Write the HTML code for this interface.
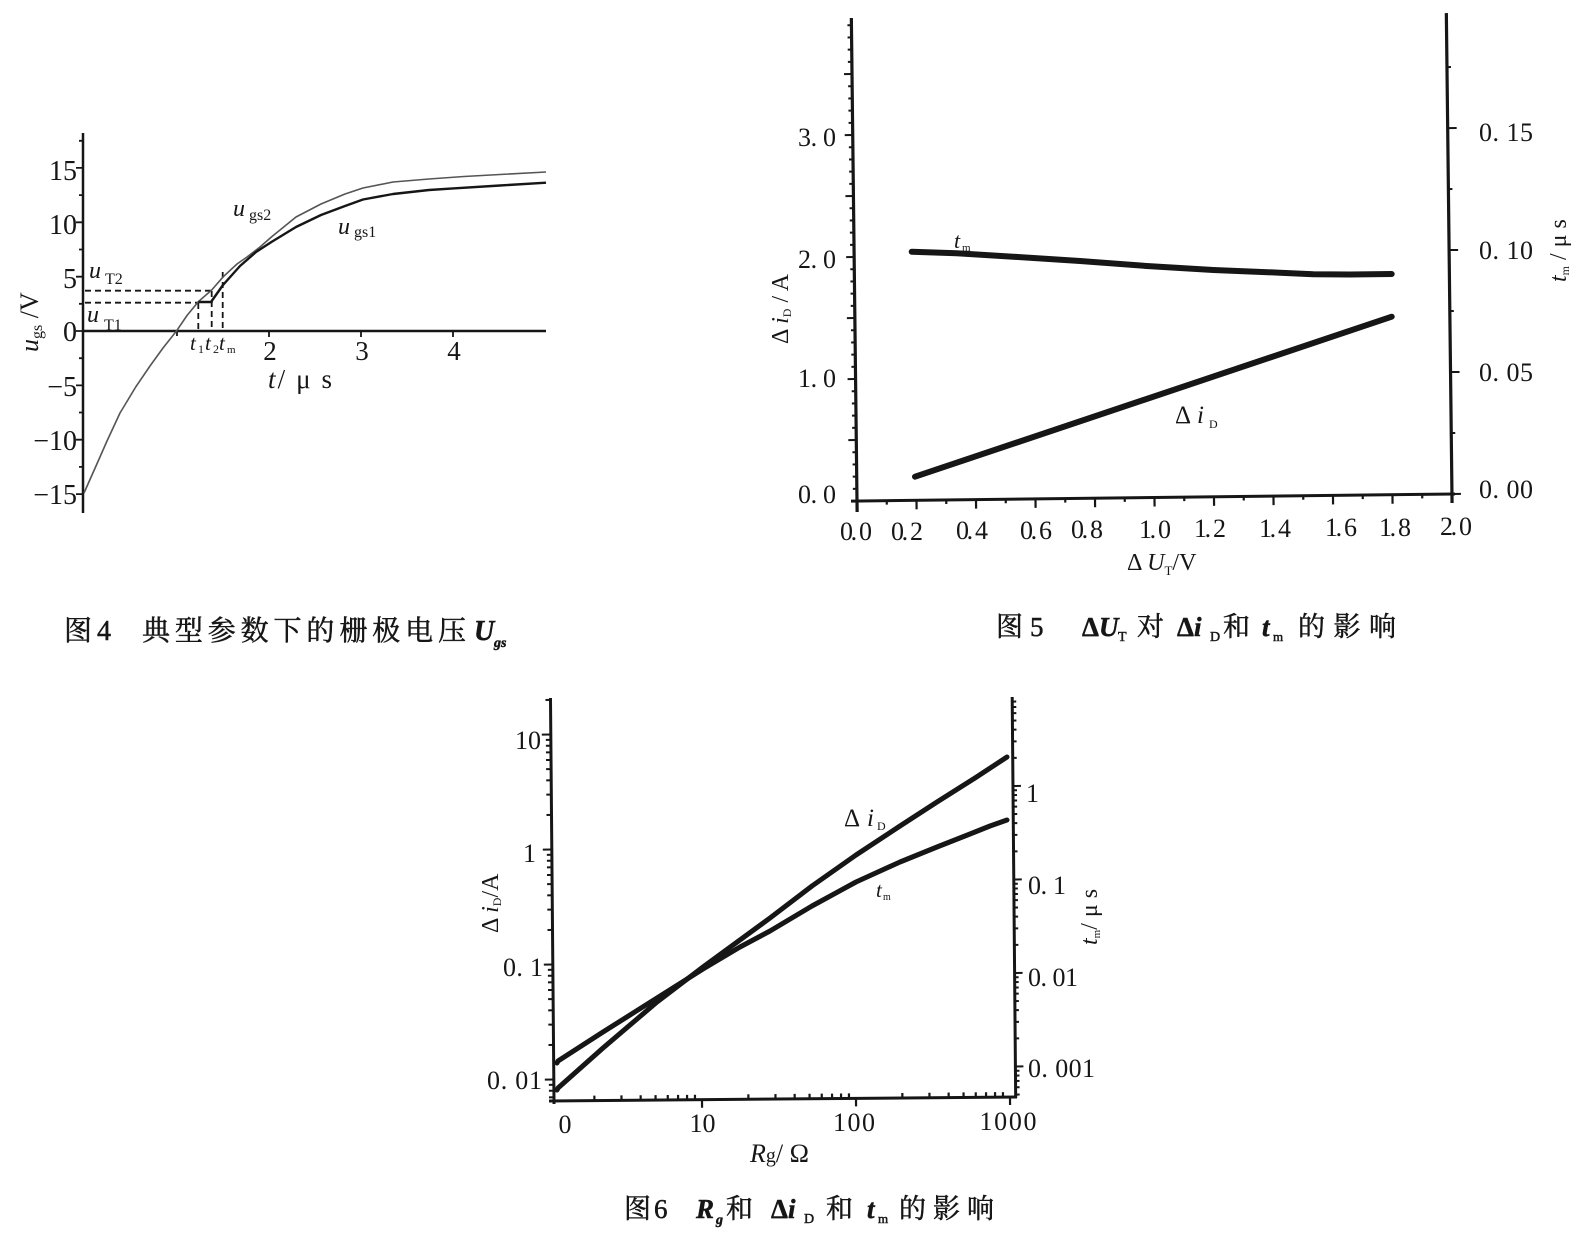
<!DOCTYPE html>
<html><head><meta charset="utf-8"><style>
html,body{margin:0;padding:0;background:#fff;}
svg{display:block;}
text{font-family:"Liberation Serif","Noto Serif CJK SC",serif;fill:#161616;}
.cj{font-family:"Liberation Serif","Noto Sans CJK SC",sans-serif;}
.it{font-style:italic;}
</style></head><body>
<svg width="1586" height="1239" viewBox="0 0 1586 1239" xmlns="http://www.w3.org/2000/svg">
<rect width="1586" height="1239" fill="#fff"/>

<!-- ================= FIG 4 ================= -->
<g stroke="#161616" fill="none">
  <line x1="83" y1="133" x2="83" y2="513" stroke-width="2.5"/>
  <line x1="83" y1="331" x2="546" y2="331" stroke-width="2.6"/>
  <path stroke-width="1.8" d="M76,167.9h7M76,222.3h7M76,276.7h7M76,331h7M76,385.4h7M76,439.7h7M76,494.1h7M79,140.8h4M79,195.1h4M79,249.5h4M79,303.8h4M79,358.2h4M79,412.5h4M79,466.9h4"/>
  <path stroke-width="1.8" d="M177,331v5M269,331v6M361,331v6M453,331v6"/>
  <g stroke-width="1.8" stroke-dasharray="6,4">
    <line x1="85" y1="302.7" x2="198" y2="302.7"/>
    <line x1="85" y1="290.7" x2="212" y2="290.7"/>
    <line x1="198.3" y1="303" x2="198.3" y2="331"/>
    <line x1="211.7" y1="291" x2="211.7" y2="331"/>
    <line x1="222.7" y1="272" x2="222.7" y2="331"/>
  </g>
  <polyline stroke="#555" stroke-width="1.6" stroke-linejoin="round" points="84,493 96,466 107,441 120,413 135.7,387 150,366 163,348 176.7,330.7 187,315.5 198.3,301.7 211.7,290 223.3,276.7 237,264 247,257 260,247 271.4,237 296,217 321,204 345,194 363,188 393,182 429,179 464,176.5 500,174.5 546,172"/>
  <polyline stroke-width="2.4" stroke-linejoin="round" points="198.3,302 211.7,302 211.7,301 223,285 240,266 256,252 271.4,242 296,227 321,215 345,206 363,199.5 393,194 429,190 455,188.3 500,185.5 546,182.7"/>
</g>
<g font-size="28" text-anchor="end">
  <text x="77" y="180">15</text>
  <text x="77" y="234">10</text>
  <text x="77" y="288">5</text>
  <text x="77" y="341">0</text>
  <text x="77" y="396">−5</text>
  <text x="77" y="450">−10</text>
  <text x="77" y="504">−15</text>
</g>
<g font-size="27" text-anchor="middle">
  <text x="270" y="360">2</text>
  <text x="362" y="360">3</text>
  <text x="454" y="360">4</text>
</g>
<text x="190" y="350" font-size="21" class="it">t</text><text x="198" y="353" font-size="12">1</text>
<text x="205" y="350" font-size="21" class="it">t</text><text x="213" y="353" font-size="12">2</text>
<text x="219" y="350" font-size="21" class="it">t</text><text x="227" y="353" font-size="11">m</text>
<text x="268" y="388" font-size="27" textLength="64"><tspan class="it">t</tspan>/ μ s</text>
<text x="89" y="278" font-size="24" class="it">u</text><text x="105" y="284" font-size="16">T2</text>
<text x="87" y="322" font-size="24" class="it">u</text><text x="104" y="330" font-size="16">T1</text>
<text x="233" y="216" font-size="24" class="it">u</text><text x="249" y="220" font-size="16">gs2</text>
<text x="338" y="234" font-size="24" class="it">u</text><text x="354" y="237" font-size="16">gs1</text>
<text transform="translate(38,352) rotate(-90)" font-size="26"><tspan class="it">u</tspan><tspan font-size="16" dy="4">gs</tspan><tspan dy="-4"> /V</tspan></text>

<!-- caption 4 -->
<g class="cj" font-size="28" stroke="#161616" stroke-width="0.5">
  <text x="64" y="640">图</text>
  <text x="97" y="640" font-family="Liberation Sans">4</text>
  <text x="142" y="640" textLength="324" lengthAdjust="spacing">典型参数下的栅极电压</text>
  <text x="474" y="640" class="it" font-family="Liberation Serif" font-weight="bold">U</text>
  <text x="494" y="647" class="it" font-size="14" font-family="Liberation Serif" font-weight="bold">gs</text>
</g>

<!-- ================= FIG 5 ================= -->
<g transform="rotate(-0.67 857 501)" stroke="#161616" fill="none">
  <line x1="857" y1="18" x2="857" y2="512" stroke-width="3.2"/>
  <line x1="851" y1="501" x2="1455" y2="501" stroke-width="3"/>
  <line x1="1452" y1="20" x2="1452" y2="510" stroke-width="3.2"/>
  <path stroke-width="2" d="M849,440h8M849,379h8M849,318h8M849,257h8M849,196h8M849,135h8M849,74h8
  M853,488.8h4M853,476.6h4M853,464.4h4M853,452.2h4M853,427.8h4M853,415.6h4M853,403.4h4M853,391.2h4
  M853,366.8h4M853,354.6h4M853,342.4h4M853,330.2h4M853,305.8h4M853,293.6h4M853,281.4h4M853,269.2h4
  M853,244.8h4M853,232.6h4M853,220.4h4M853,208.2h4M853,183.8h4M853,171.6h4M853,159.4h4M853,147.2h4
  M853,122.8h4M853,110.6h4M853,98.4h4M853,86.2h4M853,61.8h4M853,49.6h4M853,37.4h4M853,25.2h4"/>
  <path stroke-width="2" d="M1452,501h9M1452,379h9M1452,257h9M1452,135h9M1452,440h4M1452,318h4M1452,196h4M1452,74h4"/>
  <path stroke-width="2.2" d="M916.5,501v9M976,501v9M1035.5,501v9M1095,501v9M1154.5,501v9M1214,501v9M1273.5,501v9M1333,501v9M1392.5,501v9
  M886.75,501v4M946.25,501v4M1005.75,501v4M1065.25,501v4M1124.75,501v4M1184.25,501v4M1243.75,501v4M1303.25,501v4M1362.75,501v4M1422.25,501v4"/>
</g>
<g stroke="#161616" fill="none" stroke-linecap="round" stroke-linejoin="round">
  <polyline stroke-width="6" points="911.7,251.7 956.7,253.3 1013.3,256.7 1080,261 1146.7,266 1213.3,270 1280,272.7 1313.3,274.3 1350,274.5 1391.7,274"/>
  <line x1="915" y1="476.7" x2="1391.7" y2="316.7" stroke-width="6"/>
</g>
<g font-size="26" text-anchor="end">
  <text x="836" y="146" textLength="38">3. 0</text>
  <text x="836" y="268" textLength="38">2. 0</text>
  <text x="836" y="387" textLength="38">1. 0</text>
  <text x="836" y="503" textLength="38">0. 0</text>
</g>
<g font-size="26">
  <text x="1479" y="141" textLength="54">0. 15</text>
  <text x="1479" y="259" textLength="54">0. 10</text>
  <text x="1479" y="381" textLength="54">0. 05</text>
  <text x="1479" y="498" textLength="54">0. 00</text>
</g>
<g font-size="26" text-anchor="middle">
  <text x="856" y="540" textLength="32">0. 0</text>
  <text x="907" y="540" textLength="32">0. 2</text>
  <text x="972" y="539" textLength="32">0. 4</text>
  <text x="1036" y="539" textLength="32">0. 6</text>
  <text x="1087" y="538" textLength="32">0. 8</text>
  <text x="1155" y="538" textLength="32">1. 0</text>
  <text x="1210" y="537" textLength="32">1. 2</text>
  <text x="1275" y="537" textLength="32">1. 4</text>
  <text x="1341" y="536" textLength="32">1. 6</text>
  <text x="1395" y="536" textLength="32">1. 8</text>
  <text x="1456" y="535" textLength="32">2. 0</text>
</g>
<text x="1127" y="570" font-size="24">Δ <tspan class="it">U</tspan><tspan font-size="13" dy="5">T</tspan><tspan dy="-5">/V</tspan></text>
<text transform="translate(788,344) rotate(-90)" font-size="24">Δ <tspan class="it">i</tspan><tspan font-size="12" dy="3">D</tspan><tspan dy="-3"> / A</tspan></text>
<text transform="translate(1566,282) rotate(-90)" font-size="24"><tspan class="it">t</tspan><tspan font-size="12" dy="3">m</tspan><tspan dy="-3"> / μ s</tspan></text>
<text x="954" y="248" font-size="22" class="it">t</text><text x="962" y="251" font-size="11">m</text>
<text x="1175" y="423" font-size="25">Δ</text><text x="1197" y="423" font-size="25" class="it">i</text><text x="1209" y="428" font-size="12">D</text>

<!-- caption 5 -->
<g class="cj" font-size="27" stroke="#161616" stroke-width="0.5">
  <text x="996" y="636">图</text>
  <text x="1030" y="636" font-family="Liberation Sans">5</text>
  <text x="1082" y="636" font-family="Liberation Serif" font-weight="bold">Δ<tspan class="it">U</tspan></text>
  <text x="1118" y="641" font-size="14" font-family="Liberation Serif">T</text>
  <text x="1137" y="636">对</text>
  <text x="1177" y="636" font-family="Liberation Serif" font-weight="bold">Δ<tspan class="it">i</tspan></text>
  <text x="1210" y="641" font-size="14" font-family="Liberation Serif">D</text>
  <text x="1223" y="636">和</text>
  <text x="1262" y="636" class="it" font-family="Liberation Serif" font-weight="bold">t</text>
  <text x="1273" y="641" font-size="13" font-family="Liberation Serif">m</text>
  <text x="1298" y="636" textLength="98" lengthAdjust="spacing">的影响</text>
</g>

<!-- ================= FIG 6 ================= -->
<g transform="rotate(-0.5 554 1101)" stroke="#161616" fill="none">
  <line x1="554" y1="698" x2="554" y2="1104" stroke-width="3"/>
  <line x1="549" y1="1101" x2="1017" y2="1101" stroke-width="3"/>
  <line x1="1015.7" y1="701" x2="1015.7" y2="1102" stroke-width="3"/>
  <path stroke-width="2" d="M545,1079.5h9M545,964.5h9M545,849.5h9M545,734.5h9
  M549,1097.3h5M549,1090.7h5M549,1084.8h5
  M549,1044.9h5M549,1024.6h5M549,1010.3h5M549,999.1h5M549,990h5M549,982.3h5M549,975.7h5M549,969.8h5
  M549,929.9h5M549,909.6h5M549,895.3h5M549,884.1h5M549,875h5M549,867.3h5M549,860.7h5M549,854.8h5
  M549,814.9h5M549,794.6h5M549,780.3h5M549,769.1h5M549,760h5M549,752.3h5M549,745.7h5M549,739.8h5M549,699.9h5"/>
  <path stroke-width="2" d="M1015.7,1070.5h8M1015.7,977h8M1015.7,883.5h8M1015.7,790h8
  M1015.7,1098.6h4M1015.7,1091.3h4M1015.7,1085h4M1015.7,1079.6h4M1015.7,1074.8h4
  M1015.7,1042.4h4M1015.7,1025.9h4M1015.7,1014.2h4M1015.7,1005.1h4M1015.7,997.7h4M1015.7,991.5h4M1015.7,986.1h4M1015.7,981.3h4
  M1015.7,948.9h4M1015.7,932.4h4M1015.7,920.7h4M1015.7,911.6h4M1015.7,904.2h4M1015.7,898h4M1015.7,892.6h4M1015.7,887.8h4
  M1015.7,855.4h4M1015.7,838.9h4M1015.7,827.2h4M1015.7,818.1h4M1015.7,810.7h4M1015.7,804.5h4M1015.7,799.1h4M1015.7,794.3h4
  M1015.7,761.9h4M1015.7,745.4h4M1015.7,733.7h4M1015.7,724.6h4M1015.7,717.2h4M1015.7,711h4M1015.7,705.6h4"/>
  <path stroke-width="2.2" d="M702,1101v8M856,1101v8M1010,1101v8
  M594.4,1101v-5M621.5,1101v-5M640.7,1101v-5M655.6,1101v-5M667.8,1101v-5M678.1,1101v-5M687.1,1101v-5M695,1101v-5
  M748.4,1101v-5M775.5,1101v-5M794.7,1101v-5M809.6,1101v-5M821.8,1101v-5M832.1,1101v-5M841.1,1101v-5M849,1101v-5
  M902.4,1101v-5M929.5,1101v-5M948.7,1101v-5M963.6,1101v-5M975.8,1101v-5M986.1,1101v-5M995.1,1101v-5M1003,1101v-5"/>
</g>
<g stroke="#161616" fill="none" stroke-linecap="round" stroke-linejoin="round" stroke-width="5">
  <polyline points="557,1063 558,1061 603,1032 657,998 703,969 740,947 770,931 812,906 856,882 900,862 937,847 970,834 990,826 1007,820"/>
  <polyline points="557,1090 558,1088 603,1048 657,1002 703,967 770,918 812,886 856,855 900,826 937,802 975,778 1007,757"/>
</g>
<g font-size="26" text-anchor="end">
  <text x="541" y="749">10</text>
  <text x="536" y="862">1</text>
  <text x="543" y="976" textLength="40">0. 1</text>
  <text x="542" y="1089" textLength="55">0. 01</text>
</g>
<g font-size="26">
  <text x="1026" y="802">1</text>
  <text x="1028" y="894" textLength="38">0. 1</text>
  <text x="1028" y="986" textLength="50">0. 01</text>
  <text x="1028" y="1077" textLength="67">0. 001</text>
</g>
<g font-size="26" text-anchor="middle">
  <text x="565" y="1133">0</text>
  <text x="702.5" y="1132">10</text>
  <text x="854" y="1131" textLength="42">100</text>
  <text x="1008" y="1130" textLength="57">1000</text>
</g>
<text x="750" y="1162" font-size="26"><tspan class="it">R</tspan><tspan font-size="20">g</tspan>/ Ω</text>
<text transform="translate(498,933) rotate(-90)" font-size="24">Δ <tspan class="it">i</tspan><tspan font-size="12" dy="3">D</tspan><tspan dy="-3">/A</tspan></text>
<text transform="translate(1097,945) rotate(-90)" font-size="24"><tspan class="it">t</tspan><tspan font-size="11" dy="3">m</tspan><tspan dy="-3">/ μ s</tspan></text>
<text x="844" y="826" font-size="25">Δ</text><text x="867" y="826" font-size="25" class="it">i</text><text x="877" y="830" font-size="12">D</text>
<text x="876" y="897" font-size="21" class="it">t</text><text x="883" y="900" font-size="10">m</text>

<!-- caption 6 -->
<g class="cj" font-size="27" stroke="#161616" stroke-width="0.5">
  <text x="624" y="1218">图</text>
  <text x="654" y="1218" font-family="Liberation Sans">6</text>
  <text x="696" y="1218" class="it" font-family="Liberation Serif" font-weight="bold">R</text>
  <text x="716" y="1224" class="it" font-size="14" font-family="Liberation Serif" font-weight="bold">g</text>
  <text x="726" y="1218">和</text>
  <text x="771" y="1218" font-family="Liberation Serif" font-weight="bold">Δ<tspan class="it">i</tspan></text>
  <text x="804" y="1223" font-size="14" font-family="Liberation Serif">D</text>
  <text x="826" y="1218">和</text>
  <text x="867" y="1218" class="it" font-family="Liberation Serif" font-weight="bold">t</text>
  <text x="878" y="1223" font-size="13" font-family="Liberation Serif">m</text>
  <text x="899" y="1218" textLength="95" lengthAdjust="spacing">的影响</text>
</g>
</svg>
</body></html>
